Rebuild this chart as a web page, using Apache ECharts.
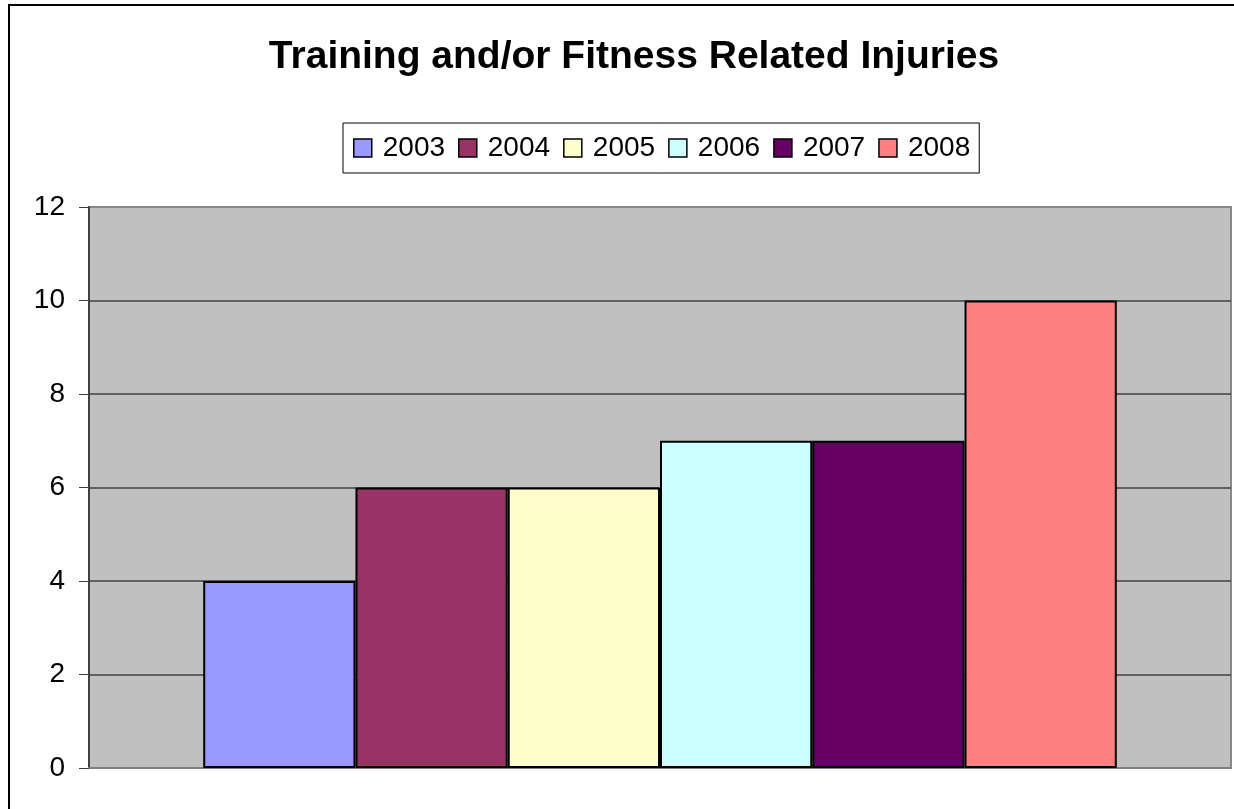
<!DOCTYPE html>
<html>
<head>
<meta charset="utf-8">
<script src="https://cdn.jsdelivr.net/npm/echarts@6/dist/echarts.min.js"></script>
<style>
  html, body { margin: 0; padding: 0; background: #fff; }
  #chart { width: 1234px; height: 809px; }
</style>
</head>
<body>
<div id="chart"></div>
<script>
const titleText = 'Training and/or Fitness Related Injuries';
const years = ['2003', '2004', '2005', '2006', '2007', '2008'];
const injuries = [4, 6, 6, 7, 7, 10];
const yearColors = ['#9999FF', '#993366', '#FFFFCC', '#CCFFFF', '#660066', '#FF8080'];
const yTicks = { min: 0, max: 12, interval: 2 };

const FONT = '"Liberation Sans", Arial, sans-serif';

const series = years.map((y, i) => ({
  name: y,
  type: 'bar',
  data: [injuries[i]],
  barGap: '0%',
  barCategoryGap: '20%',
  itemStyle: { color: yearColors[i], borderColor: '#000', borderWidth: 2 }
}));

const chart = echarts.init(document.getElementById('chart'), null, { renderer: 'canvas' });
chart.setOption({
  animation: false,
  backgroundColor: '#fff',
  graphic: [{
    type: 'rect',
    shape: { x: 9, y: 5, width: 1400, height: 1000 },
    style: { fill: 'none', stroke: '#000', lineWidth: 2 },
    z: 100
  }],
  title: {
    text: titleText,
    left: 629,
    textAlign: 'center',
    top: 33,
    textStyle: { fontFamily: FONT, fontSize: 39, fontWeight: 'bold', color: '#000' }
  },
  legend: {
    data: years,
    left: 343,
    top: 123,
    orient: 'horizontal',
    padding: [11, 9, 11, 10],
    borderColor: '#000',
    borderWidth: 1,
    itemWidth: 18,
    itemHeight: 18,
    itemGap: 13,
    icon: 'rect',
    itemStyle: { borderColor: '#000', borderWidth: 1.5 },
    textStyle: { fontFamily: FONT, fontSize: 28, color: '#000', padding: [0, 0, 0, 6] }
  },
  grid: {
    left: 89, right: 3, top: 207, bottom: 41,
    show: true,
    backgroundColor: '#C0C0C0',
    borderColor: '#888888',
    borderWidth: 2
  },
  xAxis: {
    type: 'category',
    data: [''],
    axisLine: { show: true, lineStyle: { color: '#808080', width: 2 } },
    axisTick: { show: false },
    axisLabel: { show: false },
    splitLine: { show: false }
  },
  yAxis: {
    type: 'value',
    min: yTicks.min,
    max: yTicks.max,
    interval: yTicks.interval,
    axisLine: { show: true, lineStyle: { color: '#404040', width: 2 } },
    axisTick: { show: true, inside: false, length: 10, lineStyle: { color: '#404040', width: 1 } },
    axisLabel: { margin: 24, fontFamily: FONT, fontSize: 28, color: '#000' },
    splitLine: { show: true, showMinLine: false, showMaxLine: false, lineStyle: { color: '#404040', width: 1.5 } }
  },
  series: series
});
</script>
</body>
</html>
